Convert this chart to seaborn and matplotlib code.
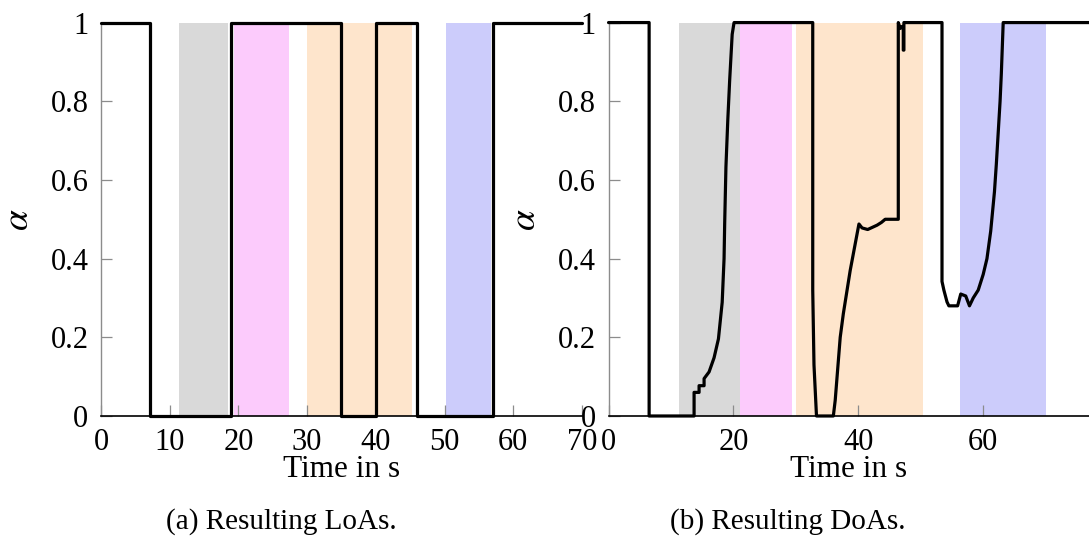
import numpy as np
import pandas as pd
import seaborn as sns
import matplotlib.pyplot as plt

# data: LoA (left), step signal
loa_t = [0, 7.2, 18.9, 35.0, 40.05, 46.05, 57.1, 70]
loa_a = [1, 0, 1, 0, 1, 0, 1, 1]

# data: DoA (right)
doa_t = [0, 6.5, 6.5, 13.7, 13.7, 14.5, 14.5, 15.3, 15.3, 16.1, 16.9, 17.6, 18.2,
         18.5, 18.6, 18.8, 19.1, 19.4, 19.8, 20.1, 32.7, 32.7, 32.9, 33.3, 36.0,
         36.3, 37.1, 37.6, 38.7, 40.1, 40.6, 41.5, 43.0, 43.7, 44.3, 46.4, 46.4,
         46.7, 47.0, 47.2, 47.2, 47.3, 47.3, 53.4, 53.4, 53.7, 54.2, 54.5, 55.9,
         56.4, 57.2, 57.8, 58.4, 59.2, 60.0, 60.6, 61.2, 61.8, 62.1, 62.4, 62.7,
         62.9, 63.2, 77]
doa_a = [1, 1, 0, 0, 0.06, 0.06, 0.077, 0.077, 0.095, 0.112, 0.148, 0.196, 0.289,
         0.40, 0.49, 0.633, 0.753, 0.854, 0.97, 1.0, 1.0, 0.32, 0.13, 0, 0,
         0.04, 0.2, 0.26, 0.37, 0.488, 0.478, 0.474, 0.485, 0.492, 0.5, 0.5, 1.0,
         0.985, 0.99, 0.99, 0.93, 0.93, 1.0, 1.0, 0.342, 0.32, 0.29, 0.28, 0.28,
         0.31, 0.305, 0.28, 0.30, 0.32, 0.36, 0.40, 0.47, 0.57, 0.64, 0.72, 0.80,
         0.87, 1.0, 1.0]

# shaded phases (start, end, colour)
loa_bands = [(11.4, 18.5, '#d9d9d9'), (19.3, 27.3, '#fccbfc'),
             (30.0, 45.2, '#fee5cc'), (50.2, 56.8, '#ccccfb')]
doa_bands = [(11.3, 21.05, '#d9d9d9'), (21.05, 29.3, '#fccbfc'),
             (30.0, 50.3, '#fee5cc'), (56.3, 70.0, '#ccccfb')]

sns.set_style("ticks")
plt.rcParams['font.family'] = ['Liberation Serif', 'DejaVu Serif']
plt.rcParams['mathtext.fontset'] = 'stix'
plt.rcParams['text.color'] = 'black'
plt.rcParams['axes.labelcolor'] = 'black'

fs = 22
fig = plt.figure(figsize=(10.89, 5.36), dpi=100)
ax1 = fig.add_axes([0.0927, 0.2239, 0.4417, 0.734])
ax2 = fig.add_axes([0.5588, 0.2239, 0.4412, 0.734])

dfl = pd.DataFrame({'t': loa_t, 'a': loa_a})
dfd = pd.DataFrame({'t': doa_t, 'a': doa_a})

for ax, bands in [(ax1, loa_bands), (ax2, doa_bands)]:
    for s, e, c in bands:
        ax.axvspan(s, e, color=c, lw=0, zorder=0)

sns.lineplot(data=dfl, x='t', y='a', ax=ax1, color='black', lw=2.3,
             drawstyle='steps-post', estimator=None, sort=False)
sns.lineplot(data=dfd, x='t', y='a', ax=ax2, color='black', lw=2.3,
             estimator=None, sort=False)
for ax in (ax1, ax2):
    for ln in ax.get_lines():
        ln.set_clip_on(False)
        ln.set_zorder(3)

ax1.set_xlim(0, 70)
ax1.set_xticks(range(0, 71, 10))
ax2.set_xlim(0, 76.94)
ax2.set_xticks([0, 20, 40, 60])

for ax, ylx in [(ax1, -0.170), (ax2, -0.172)]:
    ax.set_ylim(0, 1)
    ax.set_yticks([0, 0.2, 0.4, 0.6, 0.8, 1])
    ax.set_yticklabels(['0', '0.2', '0.4', '0.6', '0.8', '1'])
    ax.spines['top'].set_visible(False)
    ax.spines['right'].set_visible(False)
    ax.spines['left'].set_color('#8c8c8c')
    ax.spines['left'].set_linewidth(1.0)
    ax.spines['bottom'].set_color('black')
    ax.spines['bottom'].set_linewidth(1.2)
    ax.tick_params(direction='in', length=8, width=0.9, color='#8c8c8c',
                   labelsize=fs, labelcolor='black')
    ax.tick_params(axis='x', pad=9)
    ax.tick_params(axis='y', pad=9)
    ax.set_xlabel('Time in s', fontsize=22.5, va='baseline')
    ax.xaxis.set_label_coords(0.5, -0.155)
    ax.set_ylabel(r'$\alpha$', fontsize=fs + 5, va='center')
    ax.yaxis.set_label_coords(ylx, 0.5)
    ax.patch.set_alpha(0)

fig.text(0.258, 0.013, '(a) Resulting LoAs.', fontsize=21, ha='center', va='baseline')
fig.text(0.723, 0.013, '(b) Resulting DoAs.', fontsize=21, ha='center', va='baseline')

fig.savefig('out.png', dpi=100)
